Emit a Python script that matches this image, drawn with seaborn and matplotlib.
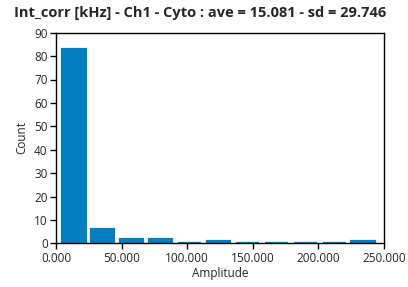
import matplotlib
matplotlib.use("Agg")
import matplotlib.pyplot as plt
import seaborn as sns
import numpy as np

bin_centers = [13.7, 35.7, 57.8, 79.8, 101.8, 123.9, 145.9, 167.9, 190.0, 212.0, 234.0]
counts = [83, 6, 2, 2, 0, 1, 0, 0, 0, 0, 1]
bin_width = 22.03
xticks = [0, 50, 100, 150, 200, 250]
yticks = [0, 10, 20, 30, 40, 50, 60, 70, 80, 90]
title = "Int_corr [kHz] - Ch1 - Cyto : ave = 15.081 - sd = 29.746"

sns.set_theme(style="ticks")
plt.rcParams['font.family'] = ['Open Sans', 'DejaVu Sans']

fig = plt.figure(figsize=(4.08, 2.87), dpi=100)
ax = fig.add_axes([56/408, 1 - 243.3/287, (384 - 56)/408, (243.3 - 32.7)/287])

edges = [bin_centers[0] - bin_width/2 + i*bin_width for i in range(len(bin_centers) + 1)]
sns.histplot(x=bin_centers, weights=counts, bins=edges, shrink=0.80,
             color="#0080C0", alpha=1, edgecolor="#0080C0", linewidth=1.6, ax=ax)

ax.set_xlim(0, 250)
ax.set_ylim(0, 90)
ax.set_xticks(xticks)
ax.set_xticklabels([f"{v:.3f}" for v in xticks])
ax.set_yticks(yticks)
ax.tick_params(axis='both', labelsize=8.5, length=4, width=1, color='black', direction='out', pad=2)
for s in ax.spines.values():
    s.set_visible(True)
    s.set_color('black')
    s.set_linewidth(1)
    s.set_zorder(5)
ax.set_xlabel("Amplitude", fontsize=8.5, labelpad=2)
ax.set_ylabel("Count", fontsize=8.5, labelpad=4)
fig.text(0.49, 0.955, title, ha='center', va='center', fontsize=10.5, fontweight='bold')

fig.savefig("out.png", dpi=100)
